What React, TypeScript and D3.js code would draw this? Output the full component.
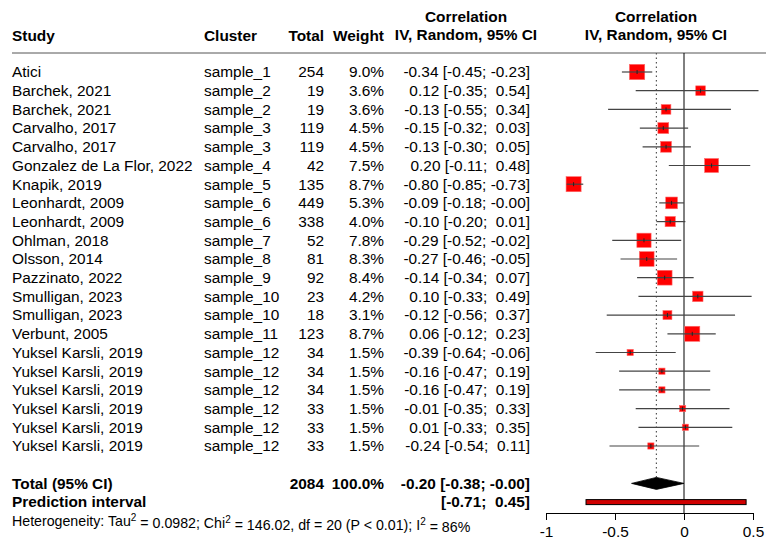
import { useEffect, useRef } from 'react'
import * as d3 from 'd3'

const STUDIES = [
  'Atici', 'Barchek, 2021', 'Barchek, 2021', 'Carvalho, 2017', 'Carvalho, 2017',
  'Gonzalez de La Flor, 2022', 'Knapik, 2019', 'Leonhardt, 2009', 'Leonhardt, 2009',
  'Ohlman, 2018', 'Olsson, 2014', 'Pazzinato, 2022', 'Smulligan, 2023', 'Smulligan, 2023',
  'Verbunt, 2005', 'Yuksel Karsli, 2019', 'Yuksel Karsli, 2019', 'Yuksel Karsli, 2019',
  'Yuksel Karsli, 2019', 'Yuksel Karsli, 2019', 'Yuksel Karsli, 2019',
]
const CLUSTERS = [
  'sample_1', 'sample_2', 'sample_2', 'sample_3', 'sample_3', 'sample_4', 'sample_5',
  'sample_6', 'sample_6', 'sample_7', 'sample_8', 'sample_9', 'sample_10', 'sample_10',
  'sample_11', 'sample_12', 'sample_12', 'sample_12', 'sample_12', 'sample_12', 'sample_12',
]
const TOTALS = [254, 19, 19, 119, 119, 42, 135, 449, 338, 52, 81, 92, 23, 18, 123, 34, 34, 34, 33, 33, 33]
const WEIGHTS = [9.0, 3.6, 3.6, 4.5, 4.5, 7.5, 8.7, 5.3, 4.0, 7.8, 8.3, 8.4, 4.2, 3.1, 8.7, 1.5, 1.5, 1.5, 1.5, 1.5, 1.5]
const EST = [-0.34, 0.12, -0.13, -0.15, -0.13, 0.20, -0.80, -0.09, -0.10, -0.29, -0.27, -0.14, 0.10, -0.12, 0.06, -0.39, -0.16, -0.16, -0.01, 0.01, -0.24]
const LOWER = [-0.45, -0.35, -0.55, -0.32, -0.30, -0.11, -0.85, -0.18, -0.20, -0.52, -0.46, -0.34, -0.33, -0.56, -0.12, -0.64, -0.47, -0.47, -0.35, -0.33, -0.54]
const UPPER = [-0.23, 0.54, 0.34, 0.03, 0.05, 0.48, -0.73, -0, 0.01, -0.02, -0.05, 0.07, 0.49, 0.37, 0.23, -0.06, 0.19, 0.19, 0.33, 0.35, 0.11]

const POOLED = { total: 2084, weight: 100.0, est: -0.20, lower: -0.38, upper: -0 }
const PRED = { lower: -0.71, upper: 0.45 }
const X_TICKS = [-1, -0.5, 0, 0.5]

const FONT = '"Liberation Sans", Arial, Helvetica, sans-serif'
const FS = 15.4

const fmt = (v: number) => (Object.is(v, -0) || v < 0 ? '-' + Math.abs(v).toFixed(2) : v.toFixed(2))
const pad = (v: number) => (Object.is(v, -0) || v < 0 ? fmt(v) : ' ' + fmt(v))
const ciText = (lo: number, hi: number) => `[${pad(lo)}; ${pad(hi)}]`

export default function App() {
  const svgRef = useRef<SVGSVGElement>(null)
  const WIDTH = 766
  const HEIGHT = 550

  useEffect(() => {
    if (!svgRef.current) return
    const svg = d3.select(svgRef.current)
    svg.selectAll('*').remove()

    const x = d3.scaleLinear().domain([-1, 0.5]).range([546, 753])
    const y = d3.scaleLinear().domain([0, 20]).range([72, 446])
    const box = d3.scaleSqrt().domain([0, 9]).range([0, 15.3])
    const axisY = 513

    const g = svg.append('g').attr('font-family', FONT).attr('font-size', FS).attr('fill', '#000')

    const txt = (px: number, py: number, s: string, anchor = 'start', bold = false, size = FS) =>
      g.append('text').attr('x', px).attr('y', py).attr('dy', '0.35em')
        .attr('text-anchor', anchor).attr('font-weight', bold ? 'bold' : 'normal')
        .attr('font-size', size).style('white-space', 'pre').text(s)

    // headers
    txt(12, 36, 'Study', 'start', true)
    txt(204, 36, 'Cluster', 'start', true)
    txt(324, 36, 'Total', 'end', true)
    txt(384, 36, 'Weight', 'end', true)
    txt(466, 17, 'Correlation', 'middle', true)
    txt(466, 35, 'IV, Random, 95% CI', 'middle', true)
    txt(656, 17, 'Correlation', 'middle', true)
    txt(656, 35, 'IV, Random, 95% CI', 'middle', true)

    g.append('line').attr('x1', 12).attr('x2', 766).attr('y1', 53).attr('y2', 53)
      .attr('stroke', '#555').attr('stroke-width', 1)

    // reference lines
    g.append('line').attr('x1', x(0)).attr('x2', x(0)).attr('y1', 53).attr('y2', axisY)
      .attr('stroke', '#000').attr('stroke-width', 1)
    g.append('line').attr('x1', x(POOLED.est)).attr('x2', x(POOLED.est)).attr('y1', 53).attr('y2', y(22) - 6)
      .attr('stroke', '#555').attr('stroke-width', 1.2).attr('stroke-dasharray', '1.5 3')

    // rows
    STUDIES.forEach((s, i) => {
      const py = y(i)
      txt(12, py, s)
      txt(204, py, CLUSTERS[i])
      txt(324, py, String(TOTALS[i]), 'end')
      txt(384, py, WEIGHTS[i].toFixed(1) + '%', 'end')
      txt(530, py, fmt(EST[i]) + ' ' + ciText(LOWER[i], UPPER[i]), 'end')

      const sz = box(WEIGHTS[i])
      g.append('rect').attr('x', x(EST[i]) - sz / 2).attr('y', py - sz / 2)
        .attr('width', sz).attr('height', sz)
        .attr('fill', '#ff0000').attr('stroke', '#ff6a6a').attr('stroke-width', 0.6)
      g.append('line').attr('x1', x(LOWER[i])).attr('x2', x(UPPER[i])).attr('y1', py).attr('y2', py)
        .attr('stroke', '#444').attr('stroke-width', 1.2)
      g.append('line').attr('x1', x(EST[i])).attr('x2', x(EST[i])).attr('y1', py - 2).attr('y2', py + 2)
        .attr('stroke', '#222').attr('stroke-width', 1)
    })

    // pooled
    const py = y(22)
    txt(12, py, 'Total (95% CI)', 'start', true)
    txt(324, py, String(POOLED.total), 'end', true)
    txt(384, py, POOLED.weight.toFixed(1) + '%', 'end', true)
    txt(530, py, fmt(POOLED.est) + ' ' + ciText(POOLED.lower, POOLED.upper), 'end', true)
    const diamond = [
      [x(POOLED.lower), py], [x(POOLED.est), py - 6], [x(POOLED.upper), py], [x(POOLED.est), py + 6],
    ]
    g.append('path').attr('d', d3.line()(diamond as [number, number][]) + 'Z')
      .attr('fill', '#000').attr('stroke', '#000').attr('stroke-width', 0.8)

    const pp = y(23)
    txt(12, pp, 'Prediction interval', 'start', true)
    txt(530, pp, ciText(PRED.lower, PRED.upper), 'end', true)
    g.append('rect').attr('x', x(PRED.lower)).attr('y', pp - 2.5)
      .attr('width', x(PRED.upper) - x(PRED.lower)).attr('height', 5)
      .attr('fill', '#d00000').attr('stroke', '#000').attr('stroke-width', 1)

    // heterogeneity
    const ht = g.append('text').attr('x', 12).attr('y', y(24)).attr('dy', '0.35em').attr('font-size', 14.2)
    ht.append('tspan').text('Heterogeneity: Tau')
    ht.append('tspan').attr('font-size', 10).attr('dy', '-0.5em').text('2')
    ht.append('tspan').attr('dy', '0.5em').text(' = 0.0982; Chi')
    ht.append('tspan').attr('font-size', 10).attr('dy', '-0.5em').text('2')
    ht.append('tspan').attr('dy', '0.5em').text(' = 146.02, df = 20 (P < 0.01); I')
    ht.append('tspan').attr('font-size', 10).attr('dy', '-0.5em').text('2')
    ht.append('tspan').attr('dy', '0.5em').text(' = 86%')

    // axis
    const ax = g.append('g').attr('transform', `translate(0,${axisY})`)
      .call(d3.axisBottom(x).tickValues(X_TICKS).tickSize(7).tickPadding(6).tickFormat(d => String(d)))
    ax.select('.domain').attr('stroke', '#000')
    ax.selectAll('.tick line').attr('stroke', '#000')
    ax.selectAll('text').attr('font-size', FS).attr('font-family', FONT).attr('fill', '#000')
  }, [])

  return (
    <svg
      ref={svgRef}
      width={WIDTH}
      height={HEIGHT}
      style={{ position: 'absolute', left: 0, top: 0, background: '#fff' }}
    />
  )
}
